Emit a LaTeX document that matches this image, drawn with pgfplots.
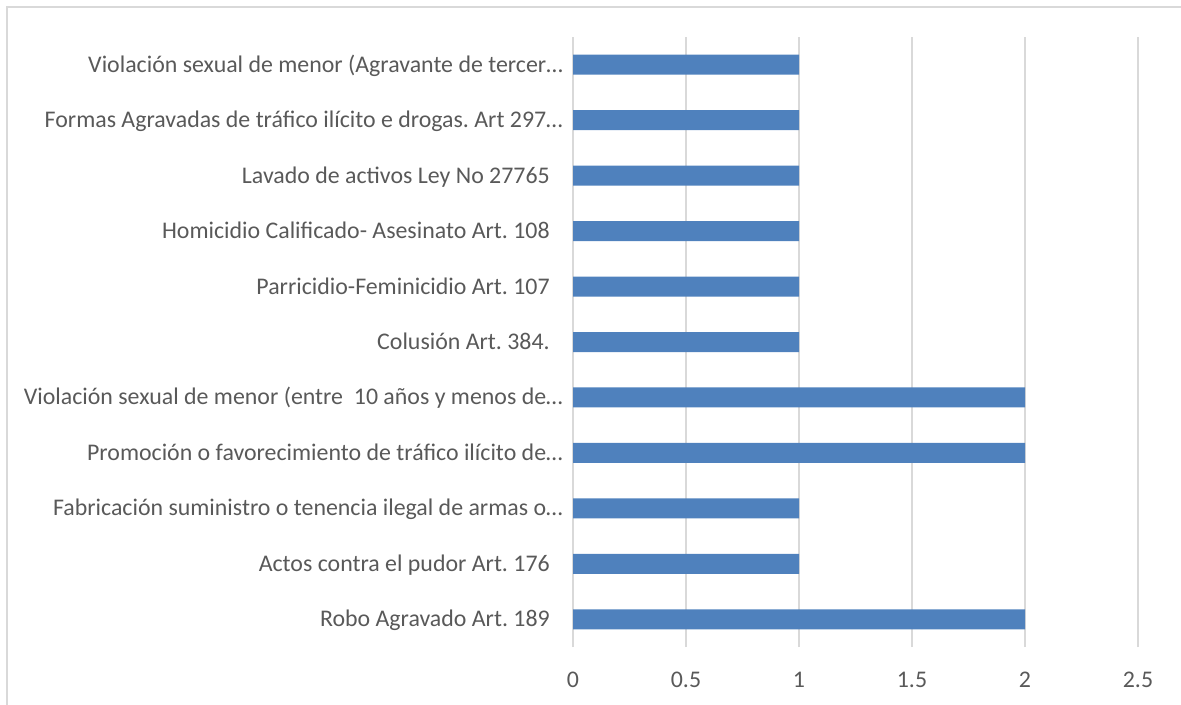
\documentclass[border=0pt]{standalone}
\usepackage{pgfplots}
\pgfplotsset{compat=1.18}
\usepackage{fontspec}
\setmainfont{Carlito}
\definecolor{barblue}{HTML}{4F81BD}
\definecolor{gridgray}{HTML}{D9D9D9}
\definecolor{txtgray}{HTML}{595959}
\newcommand{\tsp}{\rule{9.75pt}{0pt}}
\begin{document}
\frenchspacing
\fontsize{17.9pt}{21pt}\selectfont
\begin{tikzpicture}
\useasboundingbox (0,0) rectangle (885.75pt,528pt);
\draw[gridgray, line width=1.5pt] (4.9pt,522.6pt) rectangle (900pt,-20pt);
\begin{axis}[
  at={(429.75pt,42.75pt)}, anchor=south west,
  scale only axis, width=423.75pt, height=457.5pt,
  xmin=0, xmax=2.5, ymin=-0.5, ymax=10.5,
  xtick={0,0.5,1,1.5,2,2.5},
  ytick={0,...,10},
  yticklabels={
    {Robo Agravado Art. 189\tsp},
    {Actos contra el pudor Art. 176\tsp},
    {Fabricación suministro o tenencia ilegal de armas o…},
    {Promoción o favorecimiento de tráfico ilícito de…},
    {Violación sexual de menor (entre~ 10 años y menos de…},
    {Colusión Art. 384.\tsp},
    {Parricidio-Feminicidio Art. 107\tsp},
    {Homicidio Calificado- Asesinato Art. 108\tsp},
    {Lavado de activos Ley No 27765\tsp},
    {Formas Agravadas de tráfico ilícito e drogas. Art 297…},
    {Violación sexual de menor (Agravante de tercer…}},
  axis y line*=left, axis x line*=bottom,
  x axis line style={draw=none},
  y axis line style={draw=gridgray, line width=1.5pt, -},
  major tick length=0pt,
  xmajorgrids, grid style={gridgray, line width=1.2pt},
  tick label style={font=\fontsize{17.9pt}{21pt}\selectfont\frenchspacing, text=txtgray},
  /pgf/number format/assume math mode=true,
  xticklabel style={anchor=north, inner sep=0pt, yshift=-18.4pt},
  yticklabel style={anchor=base east, inner sep=0pt, xshift=-7.5pt, yshift=-5.6pt},
]
\addplot[xbar, bar width=15pt, fill=barblue, draw=none] coordinates {
  (2,0) (1,1) (1,2) (2,3) (2,4) (1,5) (1,6) (1,7) (1,8) (1,9) (1,10)
};
\end{axis}
\end{tikzpicture}
\end{document}
